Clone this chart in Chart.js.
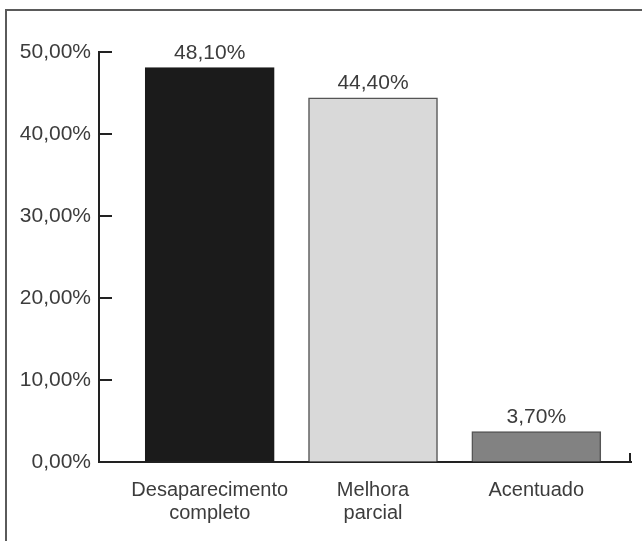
<!DOCTYPE html>
<html>
<head>
<meta charset="utf-8">
<script src="https://cdn.jsdelivr.net/npm/chart.js@4/dist/chart.umd.min.js"></script>
<style>
  html, body { margin: 0; padding: 0; background: #fff; }
  #wrap { position: relative; width: 642px; height: 541px; overflow: hidden; }
  #frame { position: absolute; left: 5px; top: 9px; right: -4px; bottom: -4px;
           border-top: 2px solid #5a5a5a; border-left: 2px solid #5a5a5a; }
  #c { position: absolute; left: 0; top: 0; }
</style>
</head>
<body>
<div id="wrap">
  <div id="frame"></div>
  <canvas id="c" width="642" height="541"></canvas>
</div>
<script>
// Categories (multi-line labels) and percentage values
const categories = [["Desaparecimento", "completo"], ["Melhora", "parcial"], ["Acentuado"]];
const values = [48.1, 44.4, 3.7];
const yTicks = [0, 10, 20, 30, 40, 50];

const barFills = ["#1b1b1b", "#d9d9d9", "#828282"];
const barBorders = ["#1b1b1b", "#555555", "#555555"];
const textColor = "#3c3c3c";
const axisColor = "#222222";
const fontFamily = "'Liberation Sans', Arial, sans-serif";

const fmtPct = v => v.toFixed(2).replace('.', ',') + '%';

// Inward tick marks on the value axis, end tick on the category axis, and value labels
const decorations = {
  id: 'decorations',
  afterDraw(chart) {
    const ctx = chart.ctx;
    const y = chart.scales.y;
    const area = chart.chartArea;
    ctx.save();
    ctx.strokeStyle = axisColor;
    ctx.lineWidth = 2;
    ctx.lineCap = 'butt';
    yTicks.forEach(t => {
      const py = Math.round(y.getPixelForValue(t));
      ctx.beginPath();
      ctx.moveTo(area.left, py);
      ctx.lineTo(area.left + 13, py);
      ctx.stroke();
    });
    ctx.beginPath();
    ctx.moveTo(area.right - 1, area.bottom + 1);
    ctx.lineTo(area.right - 1, area.bottom - 9);
    ctx.stroke();

    ctx.fillStyle = textColor;
    ctx.font = "21px " + fontFamily;
    ctx.textAlign = 'center';
    ctx.textBaseline = 'alphabetic';
    chart.getDatasetMeta(0).data.forEach((bar, i) => {
      ctx.fillText(fmtPct(values[i]), bar.x, bar.y - 9);
    });
    ctx.restore();
  }
};

new Chart(document.getElementById('c'), {
  type: 'bar',
  data: {
    datasets: [{
      data: values.map((v, i) => ({ x: i, y: v })),
      backgroundColor: barFills,
      borderColor: barBorders,
      borderWidth: 1.5,
      barThickness: 129
    }]
  },
  options: {
    responsive: false,
    animation: false,
    layout: { padding: { top: 52, right: 11, bottom: 0, left: 0 } },
    plugins: { legend: { display: false }, tooltip: { enabled: false } },
    scales: {
      x: {
        type: 'linear',
        offset: false,
        bounds: 'data',
        min: -0.678,
        max: 2.58,
        afterBuildTicks: s => { s.ticks = categories.map((_, i) => ({ value: i })); },
        afterFit: s => { s.height = 79; },
        grid: { display: false, drawTicks: false, offset: false },
        border: { display: true, color: axisColor, width: 2 },
        ticks: {
          padding: 17,
          color: textColor,
          font: { family: fontFamily, size: 20, lineHeight: 1.15 },
          maxRotation: 0,
          autoSkip: false,
          callback: v => categories[v]
        }
      },
      y: {
        min: 0,
        max: 50,
        afterBuildTicks: s => { s.ticks = yTicks.map(v => ({ value: v })); },
        afterFit: s => { s.width = 99; },
        grid: { drawOnChartArea: false, drawTicks: false },
        border: { display: true, color: axisColor, width: 2 },
        ticks: {
          padding: 8,
          color: textColor,
          font: { family: fontFamily, size: 21 },
          callback: v => fmtPct(v)
        }
      }
    }
  },
  plugins: [decorations]
});
</script>
</body>
</html>
